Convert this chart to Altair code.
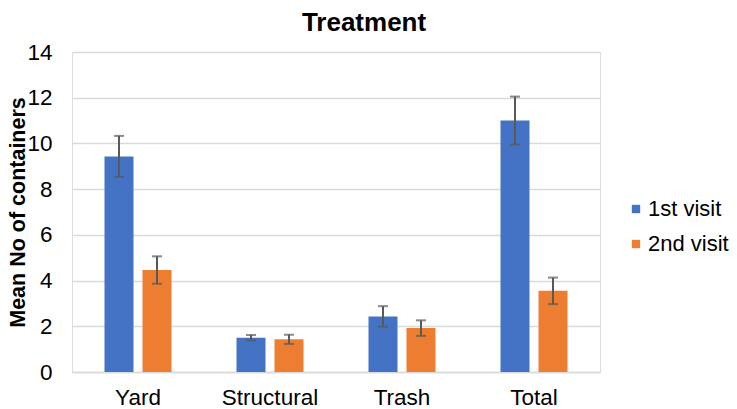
import altair as alt
import pandas as pd

categories = ["Yard", "Structural", "Trash", "Total"]
visits = ["1st visit", "2nd visit"]
visit1_mean = [9.43, 1.50, 2.43, 11.00]
visit2_mean = [4.46, 1.43, 1.92, 3.55]
visit1_err = [0.90, 0.12, 0.45, 1.05]
visit2_err = [0.60, 0.20, 0.34, 0.58]
colors = ["#4472C4", "#ED7D31"]

rows = []
for i, c in enumerate(categories):
    rows.append(dict(category=c, visit=visits[0], mean=visit1_mean[i], err=visit1_err[i]))
    rows.append(dict(category=c, visit=visits[1], mean=visit2_mean[i], err=visit2_err[i]))
df = pd.DataFrame(rows)
df["lo"] = df["mean"] - df["err"]
df["hi"] = df["mean"] + df["err"]

FONT = "Liberation Sans"

x = alt.X(
    "category:N", sort=categories,
    scale=alt.Scale(paddingInner=0.4924, paddingOuter=0.2462),
    axis=alt.Axis(title=None, labelAngle=0, labelFontSize=22.5, labelPadding=14,
                  labelColor="#000000", labelFont=FONT,
                  domainColor="#d9d9d9", domainWidth=1.5, ticks=False),
)
xoff = alt.XOffset("visit:N", sort=visits,
                   scale=alt.Scale(paddingInner=0.237, paddingOuter=0))
yscale = alt.Scale(domain=[0, 14], nice=False)

bars = alt.Chart(df).mark_bar().encode(
    x=x,
    xOffset=xoff,
    y=alt.Y("mean:Q", scale=yscale,
            axis=alt.Axis(title="Mean No of containers", values=list(range(0, 15, 2)),
                          grid=True, gridColor="#d9d9d9", gridWidth=1.5,
                          domain=False, ticks=False, labelFontSize=22.5, labelPadding=20,
                          labelColor="#000000", labelFont=FONT,
                          titleFontSize=21.5, titleFontWeight="bold", titleFont=FONT,
                          titleColor="#000000", titlePadding=-3)),
    color=alt.Color("visit:N", sort=visits,
                    scale=alt.Scale(domain=visits, range=colors),
                    legend=alt.Legend(title=None, orient="none", legendX=553, legendY=146,
                                      symbolType="square", symbolSize=70,
                                      symbolStrokeWidth=0,
                                      labelFontSize=22, labelFont=FONT, labelColor="#000000",
                                      rowPadding=13, labelOffset=1)),
)

rules = alt.Chart(df).mark_rule(color="#595959", strokeWidth=2).encode(
    x=x, xOffset=xoff,
    y=alt.Y("lo:Q", scale=yscale), y2="hi:Q",
)
cap_hi = alt.Chart(df).mark_tick(color="#595959", size=10, thickness=2).encode(
    x=x, xOffset=xoff, y=alt.Y("hi:Q", scale=yscale),
)
cap_lo = alt.Chart(df).mark_tick(color="#595959", size=10, thickness=2).encode(
    x=x, xOffset=xoff, y=alt.Y("lo:Q", scale=yscale),
)

chart = alt.layer(bars, rules, cap_hi, cap_lo).properties(
    width=528, height=320,
    title=alt.TitleParams("Treatment", fontSize=26, fontWeight="bold", font=FONT,
                          color="#000000", anchor="middle", dx=28, offset=22, dy=17),
    autosize=alt.AutoSizeParams(type="none"),
    padding={"left": 64, "top": 44, "right": 129, "bottom": 37},
).configure_view(stroke=None).configure(background="white")

chart.save("out.html", embed_options={"renderer": "svg", "actions": False})
